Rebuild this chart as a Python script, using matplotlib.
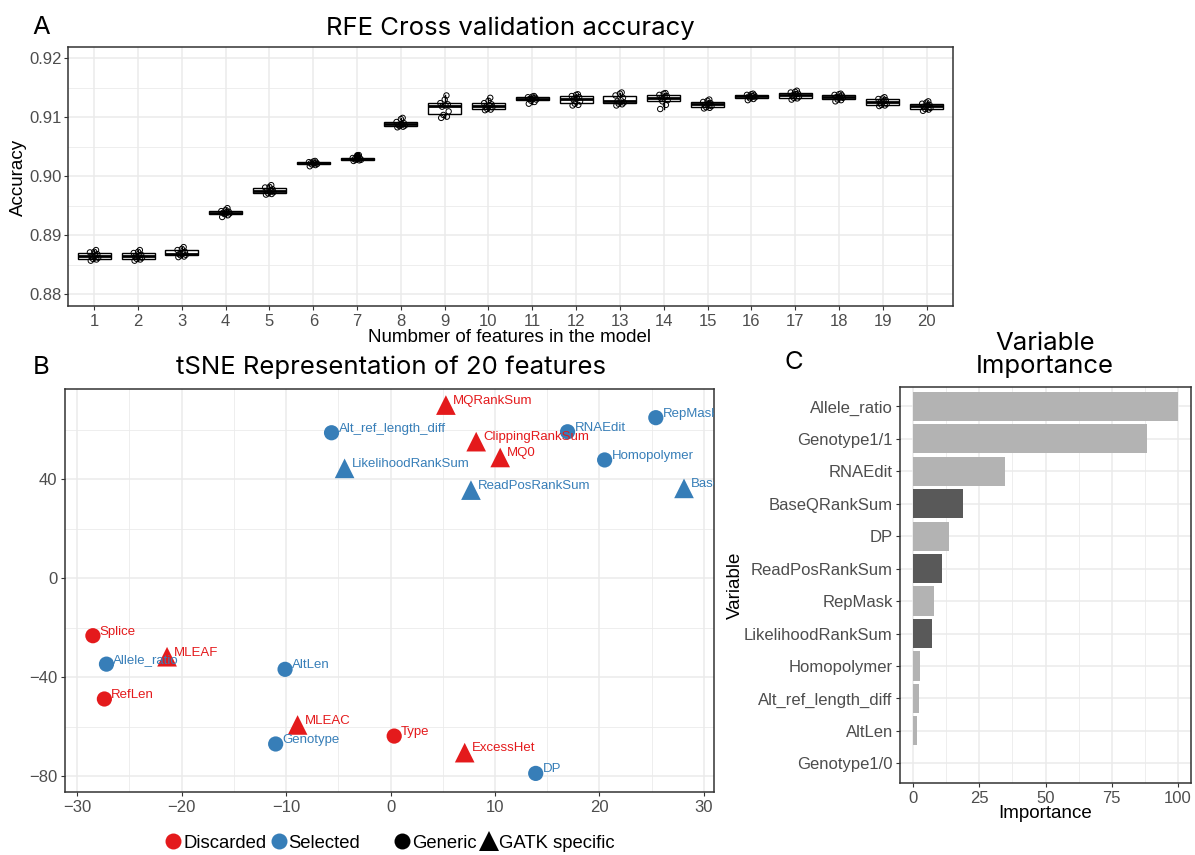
import matplotlib
matplotlib.use('Agg')
import matplotlib.pyplot as plt
from matplotlib.lines import Line2D
from matplotlib.ticker import MultipleLocator

# ---------------- data ----------------
n_features = list(range(1, 21))
cv_accuracy = [
    [0.8857, 0.8859, 0.8860, 0.8862, 0.8864, 0.8865, 0.8868, 0.8871, 0.8872, 0.8875],
    [0.8857, 0.8859, 0.8860, 0.8862, 0.8864, 0.8865, 0.8867, 0.8870, 0.8872, 0.8875],
    [0.8863, 0.8864, 0.8866, 0.8867, 0.8868, 0.8870, 0.8872, 0.8875, 0.8877, 0.8880],
    [0.8931, 0.8934, 0.8936, 0.8937, 0.8938, 0.8939, 0.8940, 0.8941, 0.8943, 0.8946],
    [0.8969, 0.8970, 0.8971, 0.8973, 0.8975, 0.8976, 0.8978, 0.8981, 0.8982, 0.8985],
    [0.9017, 0.9019, 0.9020, 0.9021, 0.9022, 0.9022, 0.9023, 0.9024, 0.9025, 0.9026],
    [0.9026, 0.9027, 0.9028, 0.9028, 0.9029, 0.9030, 0.9030, 0.9031, 0.9033, 0.9036],
    [0.9083, 0.9084, 0.9085, 0.9086, 0.9087, 0.9089, 0.9090, 0.9092, 0.9097, 0.9099],
    [0.9099, 0.9101, 0.9104, 0.9110, 0.9118, 0.9120, 0.9122, 0.9124, 0.9130, 0.9137],
    [0.9112, 0.9113, 0.9114, 0.9117, 0.9118, 0.9120, 0.9122, 0.9124, 0.9128, 0.9133],
    [0.9123, 0.9126, 0.9128, 0.9130, 0.9131, 0.9132, 0.9133, 0.9134, 0.9135, 0.9136],
    [0.9120, 0.9121, 0.9123, 0.9127, 0.9130, 0.9132, 0.9134, 0.9136, 0.9138, 0.9139],
    [0.9120, 0.9122, 0.9123, 0.9125, 0.9127, 0.9129, 0.9133, 0.9137, 0.9140, 0.9142],
    [0.9114, 0.9121, 0.9127, 0.9129, 0.9132, 0.9134, 0.9136, 0.9138, 0.9140, 0.9141],
    [0.9115, 0.9116, 0.9117, 0.9119, 0.9121, 0.9123, 0.9124, 0.9126, 0.9128, 0.9130],
    [0.9129, 0.9131, 0.9132, 0.9134, 0.9135, 0.9136, 0.9137, 0.9138, 0.9139, 0.9140],
    [0.9130, 0.9132, 0.9133, 0.9135, 0.9137, 0.9139, 0.9140, 0.9142, 0.9143, 0.9145],
    [0.9127, 0.9129, 0.9130, 0.9133, 0.9134, 0.9135, 0.9137, 0.9138, 0.9139, 0.9140],
    [0.9119, 0.9120, 0.9121, 0.9123, 0.9125, 0.9127, 0.9129, 0.9131, 0.9132, 0.9134],
    [0.9111, 0.9113, 0.9114, 0.9116, 0.9118, 0.9120, 0.9121, 0.9123, 0.9125, 0.9127],
]

tsne_names = ["Splice", "Allele_ratio", "MLEAF", "RefLen", "AltLen", "MLEAC", "Genotype",
              "Type", "ExcessHet", "DP", "Alt_ref_length_diff", "LikelihoodRankSum",
              "MQRankSum", "ClippingRankSum", "MQ0", "ReadPosRankSum", "RNAEdit",
              "Homopolymer", "RepMask", "BaseQRankSum"]
tsne_x = [-28.5, -27.2, -21.4, -27.4, -10.1, -8.9, -11.0, 0.35, 7.1, 13.9,
          -5.65, -4.4, 5.3, 8.2, 10.5, 7.7, 16.95, 20.5, 25.4, 28.1]
tsne_y = [-23.2, -34.7, -31.7, -48.8, -36.8, -59.3, -67.0, -63.8, -70.5, -78.9,
          58.9, 44.5, 70.1, 55.3, 48.9, 35.7, 59.3, 47.9, 65.0, 36.4]
tsne_status = ["Discarded", "Selected", "Discarded", "Discarded", "Selected", "Discarded",
               "Selected", "Discarded", "Discarded", "Selected", "Selected", "Selected",
               "Discarded", "Discarded", "Discarded", "Selected", "Selected", "Selected",
               "Selected", "Selected"]
tsne_kind = ["Generic", "Generic", "GATK specific", "Generic", "Generic", "GATK specific",
             "Generic", "Generic", "GATK specific", "Generic", "Generic", "GATK specific",
             "GATK specific", "GATK specific", "GATK specific", "GATK specific", "Generic",
             "Generic", "Generic", "GATK specific"]

imp_vars = ["Allele_ratio", "Genotype1/1", "RNAEdit", "BaseQRankSum", "DP", "ReadPosRankSum",
            "RepMask", "LikelihoodRankSum", "Homopolymer", "Alt_ref_length_diff", "AltLen",
            "Genotype1/0"]
imp_values = [100, 88.3, 34.8, 18.8, 13.4, 11.0, 8.0, 7.0, 2.4, 2.0, 1.4, 0.0]
imp_kind = ["Generic", "Generic", "Generic", "GATK specific", "Generic", "GATK specific",
            "Generic", "GATK specific", "Generic", "Generic", "Generic", "Generic"]

# ---------------- style ----------------
plt.rcParams['font.family'] = ['Liberation Sans', 'DejaVu Sans']
TITLE_FONT = ['Inter', 'DejaVu Sans']
TITLE_SIZE = 18.5
STATUS_COLORS = {"Discarded": "#E41A1C", "Selected": "#377EB8"}
KIND_MARKERS = {"Generic": "o", "GATK specific": "^"}
KIND_SIZES = {"Generic": 120, "GATK specific": 200}
BAR_COLORS = {"Generic": "#B3B3B3", "GATK specific": "#595959"}
JITTER = [-0.08, 0.05, -0.03, 0.09, -0.06, 0.02, 0.07, -0.10, 0.0, 0.04]

W, H = 1195, 855
fig = plt.figure(figsize=(W / 100, H / 100), dpi=100)
fig.patch.set_facecolor('white')


def rect(l, t, r, b):
    return [l / W, 1 - b / H, (r - l) / W, (b - t) / H]


def fx(px):
    return px / W


def fy(py):
    return 1 - py / H


def style(ax):
    for s in ax.spines.values():
        s.set_color('#333333')
        s.set_linewidth(1.1)
    ax.tick_params(which='major', colors='#333333', labelcolor='#4D4D4D',
                   labelsize=12, length=3.2, width=0.8)
    ax.tick_params(which='minor', length=0)
    ax.grid(which='major', color='#EBEBEB', lw=1.1)
    ax.grid(which='minor', color='#EBEBEB', lw=0.6)
    ax.set_axisbelow(True)


# ---------------- Panel A ----------------
axA = fig.add_axes(rect(68, 47.3, 952.8, 305.7))
style(axA)
axA.boxplot(cv_accuracy, positions=n_features, widths=0.75, showcaps=False,
            patch_artist=True,
            boxprops=dict(facecolor='white', edgecolor='black', lw=1.0),
            medianprops=dict(color='black', lw=2.0),
            whiskerprops=dict(color='black', lw=1.0),
            flierprops=dict(marker='o', markerfacecolor='black', markeredgecolor='black',
                            markersize=4))
for i, vals in zip(n_features, cv_accuracy):
    xs = [i + JITTER[k % len(JITTER)] for k in range(len(vals))]
    axA.scatter(xs, vals, s=15, facecolors='none', edgecolors='black', lw=0.7, zorder=4)
axA.set_xlim(0.4, 20.6)
axA.set_ylim(0.87807, 0.92186)
axA.set_xticks(n_features)
axA.set_xticklabels([str(n) for n in n_features])
axA.set_yticks([0.88, 0.89, 0.90, 0.91, 0.92])
axA.set_yticklabels(['0.88', '0.89', '0.90', '0.91', '0.92'])
axA.yaxis.set_minor_locator(MultipleLocator(0.005))
axA.tick_params(axis='y', pad=1.5)
axA.tick_params(axis='x', pad=2.5)

fig.text(fx(32), fy(27), 'A', fontsize=TITLE_SIZE, family=TITLE_FONT, ha='left', va='center')
fig.text(fx(510), fy(28), 'RFE Cross validation accuracy', fontsize=TITLE_SIZE,
         family=TITLE_FONT, ha='center', va='center')
fig.text(fx(18), fy(177), 'Accuracy', fontsize=13.5, rotation=90, ha='center', va='center')
fig.text(fx(510), fy(337.5), 'Numbmer of features in the model', fontsize=13.5,
         ha='center', va='center')

# ---------------- Panel B ----------------
axB = fig.add_axes(rect(64.7, 389, 714.3, 791.7))
style(axB)
for kind in ["Generic", "GATK specific"]:
    idx = [i for i, k in enumerate(tsne_kind) if k == kind]
    axB.scatter([tsne_x[i] for i in idx], [tsne_y[i] for i in idx],
                c=[STATUS_COLORS[tsne_status[i]] for i in idx],
                marker=KIND_MARKERS[kind], s=KIND_SIZES[kind], lw=0, zorder=3)
for name, x, y, st in zip(tsne_names, tsne_x, tsne_y, tsne_status):
    axB.annotate(name, (x, y), xytext=(5, 3), textcoords='offset points',
                 fontsize=9.5, color=STATUS_COLORS[st], ha='left', va='center',
                 clip_on=True, zorder=4)
axB.set_xlim(-31.2, 31.0)
axB.set_ylim(-86.3, 76.6)
axB.set_xticks([-30, -20, -10, 0, 10, 20, 30])
axB.set_yticks([-80, -40, 0, 40])
axB.xaxis.set_minor_locator(MultipleLocator(5))
axB.yaxis.set_minor_locator(MultipleLocator(20))
axB.tick_params(axis='y', pad=2)
axB.tick_params(axis='x', pad=2.5)

fig.text(fx(33), fy(367), 'B', fontsize=TITLE_SIZE, family=TITLE_FONT, ha='left', va='center')
fig.text(fx(391), fy(367), 'tSNE Representation of 20 features', fontsize=TITLE_SIZE,
         family=TITLE_FONT, ha='center', va='center')

col_handles = [Line2D([], [], ls='none', marker='o', markersize=11.5, markeredgewidth=0,
                      markerfacecolor=STATUS_COLORS[s]) for s in ["Discarded", "Selected"]]
leg1 = fig.legend(col_handles, ["Discarded", "Selected"], ncol=2, frameon=False,
                  loc='center left', bbox_to_anchor=(fx(164), fy(843)),
                  fontsize=13.3, handlelength=1.0, handletextpad=0.05,
                  columnspacing=0.15, borderpad=0, borderaxespad=0)
shp_handles = [Line2D([], [], ls='none', marker=KIND_MARKERS[k],
                      markersize=11.5 if k == "Generic" else 14, markeredgewidth=0,
                      markerfacecolor='black') for k in ["Generic", "GATK specific"]]
leg2 = fig.legend(shp_handles, ["Generic", "GATK specific"], ncol=2, frameon=False,
                  loc='center left', bbox_to_anchor=(fx(393), fy(843)),
                  fontsize=13.3, handlelength=1.0, handletextpad=0.05,
                  columnspacing=0.15, borderpad=0, borderaxespad=0)

# ---------------- Panel C ----------------
axC = fig.add_axes(rect(900, 387, 1191, 782.7))
style(axC)
ypos = list(range(len(imp_vars)))
axC.barh(ypos, imp_values, height=0.9, color=[BAR_COLORS[k] for k in imp_kind], zorder=3)
axC.set_yticks(ypos)
axC.set_yticklabels(imp_vars)
axC.set_ylim(len(imp_vars) - 1 + 0.6, -0.6)
axC.set_xlim(-5, 105)
axC.set_xticks([0, 25, 50, 75, 100])
axC.xaxis.set_minor_locator(MultipleLocator(12.5))
axC.tick_params(axis='y', pad=2)
axC.tick_params(axis='x', pad=2.5)

fig.text(fx(785), fy(362), 'C', fontsize=TITLE_SIZE, family=TITLE_FONT, ha='left', va='center')
fig.text(fx(1045), fy(355), 'Variable\nImportance', fontsize=TITLE_SIZE, family=TITLE_FONT,
         ha='center', va='center', linespacing=1.0)
fig.text(fx(735), fy(585), 'Variable', fontsize=13.5, rotation=90, ha='center', va='center')
fig.text(fx(1045), fy(813), 'Importance', fontsize=13.5, ha='center', va='center')

fig.savefig('out.png', dpi=100, facecolor='white')
